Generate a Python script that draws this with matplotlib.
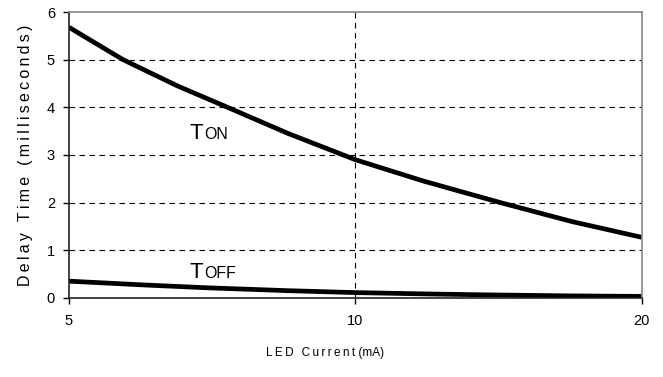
import numpy as np
import matplotlib.pyplot as plt
from matplotlib.transforms import offset_copy

plt.rcParams['font.family'] = ['Liberation Sans', 'DejaVu Sans']

# LED current (mA) and delay times (ms)
current = [5, 5.7, 6.5, 7.3, 8.5, 10, 11.8, 14.2, 16.9, 20]
t_on = [5.68, 5.0, 4.45, 4.02, 3.45, 2.9, 2.45, 2.0, 1.6, 1.27]
current_off = [5, 6, 7, 8.5, 10, 12, 14, 17, 20]
t_off = [0.35, 0.27, 0.21, 0.15, 0.11, 0.08, 0.06, 0.04, 0.03]

xticks = [5, 10, 20]
yticks = [0, 1, 2, 3, 4, 5, 6]

fig = plt.figure(figsize=(6.63, 3.77), dpi=100)
ax = fig.add_axes([0.104, 0.21, 0.864, 0.758])

ax.plot(current, t_on, color='black', lw=3.4, solid_capstyle='butt')
ax.plot(current_off, t_off, color='black', lw=3.4, solid_capstyle='butt')

ax.set_xscale('log', base=2)
ax.set_xlim(5, 20)
ax.set_ylim(0, 6)
ax.set_xticks(xticks)
ax.set_xticklabels([str(v) for v in xticks])
ax.minorticks_off()
ax.set_yticks(yticks)

for y in yticks[1:-1]:
    ax.axhline(y, color='black', lw=0.8, ls=(0, (5, 4)))
ax.axvline(10, color='black', lw=0.8, ls=(0, (5, 4)))

for s in ax.spines.values():
    s.set_color('#888888')
    s.set_linewidth(1.2)
ax.spines['left'].set_color('#222222')
ax.spines['bottom'].set_color('#222222')
ax.tick_params(direction='out', length=4, width=1, labelsize=10.5, pad=6)
ax.tick_params(axis='x', pad=8)

ts = '\u2009'
ax.set_ylabel(ts.join('Delay Time (milliseconds)'), fontsize=11.5, labelpad=10)
fig.text(0.49, 0.055, ts.join('LED Current') + ' (mA)', fontsize=8.5, ha='center')

# curve labels: "T" followed by smaller "ON"/"OFF"
for xpos, ypos, sub in [(6.7, 3.33, 'ON'), (6.7, 0.42, 'OFF')]:
    ax.text(xpos, ypos, 'T', fontsize=16, ha='left', va='baseline')
    tr = offset_copy(ax.transData, fig=fig, x=10.3, y=0, units='points')
    ax.text(xpos, ypos, sub, fontsize=11.5, ha='left', va='baseline', transform=tr)

fig.savefig('out.png', dpi=100)
